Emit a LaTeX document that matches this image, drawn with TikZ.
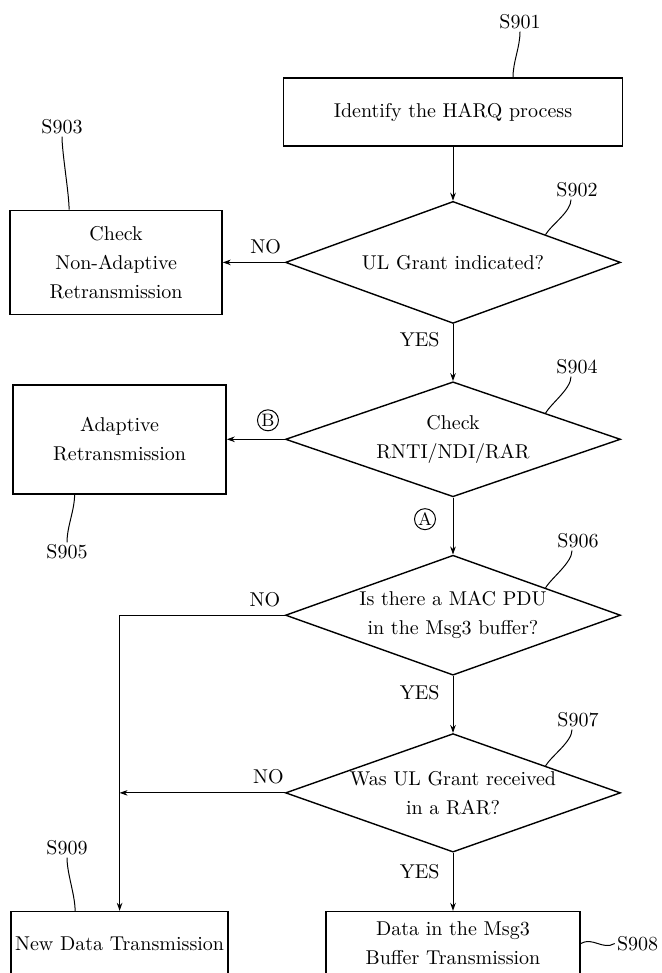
\documentclass[tikz,border=0pt]{standalone}
\usepackage{tikz}
\usetikzlibrary{
  arrows.meta,
  calc,
  positioning,
  shapes.geometric
}
\newcommand{\steptext}{\fontsize{10}{14.5}\selectfont}
\tikzset{
  stepbox/.style={draw,line width=0.7pt,align=center,inner sep=2pt,font=\steptext},
  decide/.style={draw,diamond,line width=0.7pt,aspect=2.75,inner sep=0pt,
    align=center,font=\steptext,minimum width=167.5pt},
  flow/.style={-{Stealth[length=4pt,width=2.8pt]},line width=0.5pt},
  lab/.style={font=\steptext,inner sep=1pt},
  steplab/.style={font=\steptext,inner sep=1pt},
  leader/.style={line width=0.5pt},
  circ/.style={draw,circle,line width=0.5pt,inner sep=0pt,minimum size=10.5pt,
    font=\fontsize{9}{10}\selectfont}
}

\begin{document}
\begin{tikzpicture}[x=0.5pt,y=-0.5pt,node distance=28.5pt and 30pt]
  \useasboundingbox (0,0) rectangle (662,973);
  % main column
  \node[stepbox,minimum width=169.5pt,minimum height=34pt] (s901) at (453,112) {Identify the HARQ process};
  \node[decide,minimum height=61pt,below=27pt of s901] (s902) {UL Grant indicated?};
  \node[decide,minimum height=57.5pt,below=of s902] (s904) {Check\\RNTI/NDI/RAR};
  \node[decide,minimum height=60pt,below=of s904] (s906) {Is there a MAC PDU\\in the Msg3 buffer?};
  \node[decide,minimum height=59pt,below=of s906] (s907) {Was UL Grant received\\in a RAR?};
  \node[stepbox,minimum width=127pt,minimum height=32pt,below=29pt of s907] (s908) {Data in the Msg3\\Buffer Transmission};
  % side column
  \node[stepbox,minimum width=106pt,minimum height=52pt,left=31pt of s902] (s903) {Check\\Non-Adaptive\\Retransmission};
  \node[stepbox,minimum width=106.5pt,minimum height=54.5pt,left=29pt of s904] (s905) {Adaptive\\Retransmission};
  \node[stepbox,minimum width=105.5pt,minimum height=32pt,anchor=north] (s909) at (s905.south |- s908.north) {New Data Transmission};
  \coordinate (join) at (s907.west -| s909.north);
  % flow
  \draw[flow] (s901) -- (s902);
  \draw[flow] (s902) -- node[lab,pos=0.31,above=3pt]{NO} (s903);
  \draw[flow] (s902) -- node[lab,pos=0.28,left=5.5pt]{YES} (s904);
  \draw[flow] (s904) -- node[circ,pos=0.29,above=4pt]{B} (s905);
  \draw[flow] (s904) -- node[circ,pos=0.38,left=8.5pt]{A} (s906);
  \draw[flow] (s906.west) -| node[lab,pos=0.06,above=3pt]{NO} (s909.north);
  \draw[flow] (s906) -- node[lab,pos=0.3,left=5.5pt]{YES} (s907);
  \draw[flow] (s907.west) -- node[lab,pos=0.1,above=3pt]{NO} (join);
  \draw[flow] (s907) -- node[lab,pos=0.33,left=5.5pt]{YES} (s908);
  % step numbers
  \node[steplab] (l901) at (520,22) {S901};
  \node[steplab] (l902) at (577,190) {S902};
  \node[steplab] (l903) at (62,127) {S903};
  \node[steplab] (l904) at (577,367) {S904};
  \node[steplab] (l905) at (67,552) {S905};
  \node[steplab] (l906) at (578,541) {S906};
  \node[steplab] (l907) at (578,720) {S907};
  \node[steplab,right=17pt of s908] (l908) {S908};
  \node[steplab] (l909) at (67,848) {S909};
  \draw[leader] (l901.south) .. controls +(0,16) and +(0,-16) .. ([xshift=30pt]s901.north);
  \draw[leader] ([xshift=-3pt]l902.south) .. controls +(0,12) and +(6,-10) .. ($(s902.north)!0.55!(s902.east)$);
  \draw[leader] (l903.south) .. controls +(0,16) and +(0,-16) .. ([xshift=-23.5pt]s903.north);
  \draw[leader] ([xshift=-3pt]l904.south) .. controls +(0,12) and +(6,-10) .. ($(s904.north)!0.55!(s904.east)$);
  \draw[leader] ([xshift=-22.5pt]s905.south) .. controls +(0,16) and +(0,-16) .. (l905.north);
  \draw[leader] ([xshift=-3pt]l906.south) .. controls +(0,12) and +(6,-10) .. ($(s906.north)!0.55!(s906.east)$);
  \draw[leader] ([xshift=-3pt]l907.south) .. controls +(0,12) and +(6,-10) .. ($(s907.north)!0.55!(s907.east)$);
  \draw[leader] (s908.east) .. controls +(12,-7) and +(-12,7) .. (l908.west);
  \draw[leader] (l909.south) .. controls +(0,16) and +(0,-16) .. ([xshift=-22.25pt]s909.north);
\end{tikzpicture}
\end{document}
